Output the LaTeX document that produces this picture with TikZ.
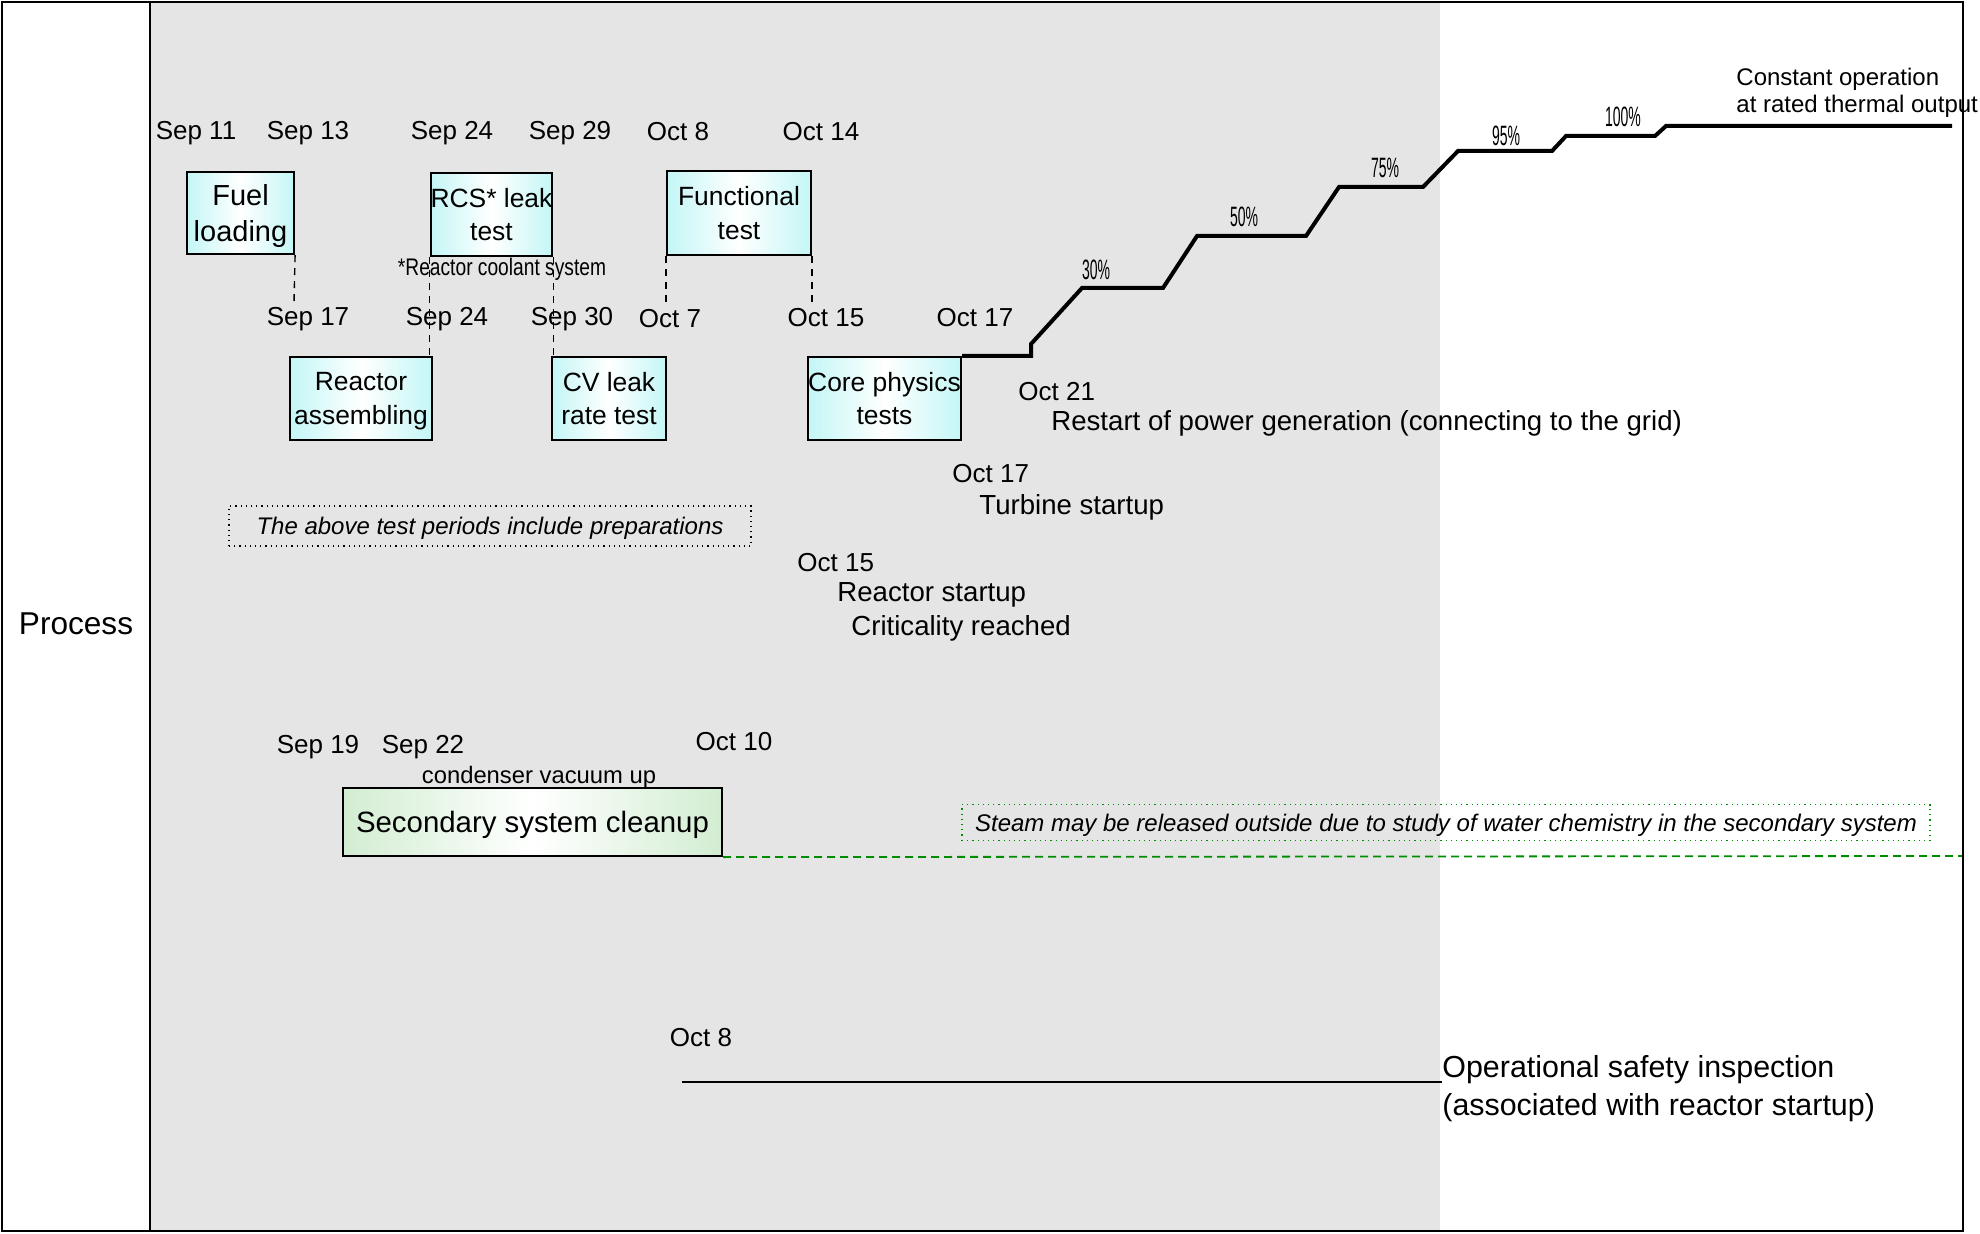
\documentclass[tikz,border=0pt]{standalone}
\usepackage{fontspec}
\setmainfont{Liberation Sans}
\newfontfamily\pctfont[FakeStretch=0.5]{Liberation Sans}
\newfontfamily\notefont[FakeStretch=0.8]{Liberation Sans}

\definecolor{periodgray}{HTML}{E5E5E5}
\definecolor{taskcyan}{HTML}{C4F6F6}
\definecolor{cleangreen}{HTML}{D2EDD2}
\definecolor{steamgreen}{HTML}{008C00}

\tikzset{
  date/.style={inner sep=0pt,font=\fontsize{13}{15}\selectfont},
  info/.style={inner sep=0pt,anchor=west,font=\fontsize{13.8}{16}\selectfont},
  task/.style={draw,line width=1.1pt,align=center,inner sep=0pt,text depth=0pt,
    left color=taskcyan,right color=taskcyan,middle color=white,
    font=\fontsize{13.2}{16.6}\selectfont},
  guide/.style={dash pattern=on 3.5pt off 3pt,line width=0.7pt},
  pct/.style={inner sep=0pt,font=\pctfont\fontsize{14}{16}\selectfont},
  power/.style={line width=2pt,line join=miter},
}

\begin{document}
\begin{tikzpicture}[x=0.5pt,y=-0.5pt]
\useasboundingbox (0,0) rectangle (1980,1234);
\fill[periodgray] (150,2) rectangle (1440,1231);

\node[font=\fontsize{15.8}{18}\selectfont] (process) at (76,624) {Process};

% tests
\node[date] (fuelstart) at (196,133) {Sep 11};
\node[date] (fuelend) at (308,133) {Sep 13};
\node[date] (rcsstart) at (452,133) {Sep 24};
\node[date] (rcsend) at (570,133) {Sep 29};
\node[date] (funcstart) at (678,132) {Oct 8};
\node[date] (funcend) at (821,132) {Oct 14};

\node[task,minimum width=53.5pt,minimum height=41pt,font=\fontsize{14.5}{17.5}\selectfont] (fuel) at (240.5,213) {Fuel\\loading};
\node[task,minimum width=60.5pt,minimum height=41.5pt] (rcs) at (491.5,214.5) {RCS* leak\\test};
\node[task,minimum width=72pt,minimum height=42pt] (func) at (739,213) {Functional\\test};
\node[inner sep=0pt,font=\notefont\fontsize{12}{14}\selectfont] (rcsnote) at (502,269) {*Reactor coolant system};

\node[date] (assemend) at (308,319) {Sep 17};
\node[date] (assemday) at (447,319) {Sep 24};
\node[date] (cvday) at (572,319) {Sep 30};
\node[date] (funcday) at (670,319) {Oct 7};
\node[date] (coreday) at (826,318) {Oct 15};
\node[date] (coreend) at (975,318) {Oct 17};

\node[task,minimum width=71pt,minimum height=41.5pt] (assem) at (361,398.5) {Reactor\\assembling};
\node[task,minimum width=57pt,minimum height=41.5pt] (cvleak) at (609,398.5) {CV leak\\rate test};
\node[task,minimum width=76.5pt,minimum height=41.5pt] (core) at (884.5,398.5) {Core physics\\tests};

\coordinate (fuelguide) at (294,303);
\draw[guide] (fuel.south east) -- (fuelguide);
\draw[guide] (rcs.south west) -- (rcs.south west |- assem.north);
\draw[guide] (rcs.south east) -- (rcs.south east |- cvleak.north);
\draw[guide] (func.south west) -- (func.south west |- fuelguide);
\draw[guide] (func.south east) -- (func.south east |- fuelguide);

% output
\coordinate (ratedend) at (1952,126);
\draw[power] (core.north east) -- ++(69,0) -- ++(0,-12) -- (1082,288) -- (1163,288)
  -- (1197,236) -- (1306,236) -- (1339,187) -- (1423,187) -- (1458,151) -- (1552,151)
  -- (1566,136) -- (1655,136) -- (1666,126) -- (ratedend);
\node[pct] (p30) at (1096,270) {30\%};
\node[pct] (p50) at (1244,217) {50\%};
\node[pct] (p75) at (1385,168) {75\%};
\node[pct] (p95) at (1506,136) {95\%};
\node[pct] (p100) at (1623,117) {100\%};
\node[inner sep=0pt,anchor=west,align=left,font=\fontsize{12}{13.3}\selectfont] (rated) at (1736,93) {Constant operation\\at rated thermal output};

\node[date,anchor=west] (gridday) at (1018,392) {Oct 21};
\node[info] (grid) at (1051,423) {Restart of power generation (connecting to the grid)};
\node[date,anchor=west] (turbday) at (952,474) {Oct 17};
\node[info] (turb) at (979,507) {Turbine startup};
\node[date,anchor=west] (critday) at (797,563) {Oct 15};
\node[info] (reactorup) at (837,595) {Reactor startup};
\node[info] (crit) at (851,628) {Criticality reached};

\node[draw,dotted,line width=0.6pt,minimum width=261pt,minimum height=20pt,inner sep=0pt,text depth=0pt,font=\itshape\fontsize{12}{14}\selectfont] (prepnote) at (490,526) {The above test periods include preparations};

% secondary system
\node[date] (cleanstart) at (318,747) {Sep 19};
\node[date] (vacuumday) at (423,747) {Sep 22};
\node[date] (cleanend) at (734,742) {Oct 10};
\node[inner sep=0pt,font=\fontsize{11.9}{14}\selectfont] (vacuum) at (539,777) {condenser vacuum up};
\node[task,left color=cleangreen,right color=cleangreen,middle color=white,minimum width=189.5pt,minimum height=34pt,font=\fontsize{14.7}{17}\selectfont] (cleanup) at (532.5,822) {Secondary system cleanup};

\node[draw=steamgreen,dotted,line width=0.6pt,minimum width=484pt,minimum height=18pt,inner sep=0pt,text depth=0pt,font=\itshape\fontsize{12}{14}\selectfont] (steamnote) at (1446,822.5) {Steam may be released outside due to study of water chemistry in the secondary system};
\coordinate (steamend) at (1963,856);
\draw[steamgreen,dash pattern=on 4pt off 2.5pt,line width=0.9pt] (cleanup.south east) -- (steamend);

% inspection
\node[date] (osiday) at (701,1038) {Oct 8};
\node[inner sep=0pt,anchor=west,align=left,font=\fontsize{15.2}{19}\selectfont] (osi) at (1442,1089) {Operational safety inspection\\(associated with reactor startup)};
\coordinate (osistart) at (682,1082);
\draw[line width=1.1pt] (osistart) -- (osistart -| osi.west);

\draw[line width=0.8pt] (150,2) -- (150,1231);
\draw[line width=1.3pt] (2,2) rectangle (1963,1231);
\end{tikzpicture}
\end{document}
